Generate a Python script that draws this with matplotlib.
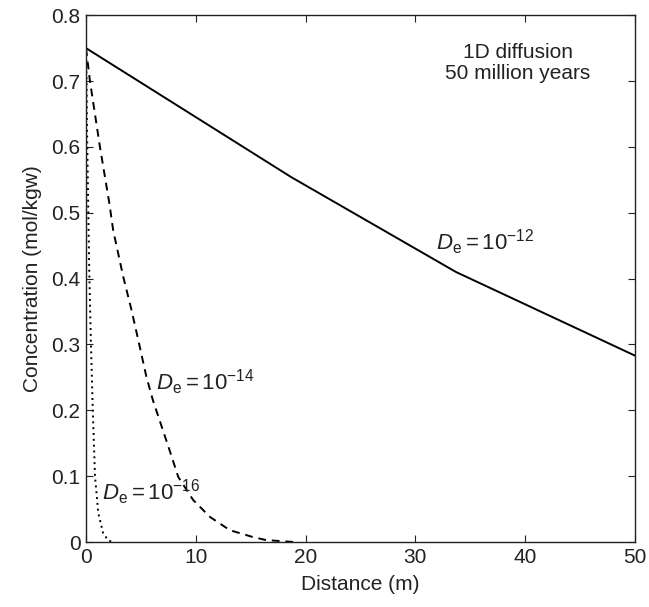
import matplotlib.pyplot as plt

plt.rcParams['font.family'] = ['Liberation Sans', 'DejaVu Sans']
plt.rcParams['mathtext.fontset'] = 'custom'
plt.rcParams['mathtext.rm'] = 'Liberation Sans'
plt.rcParams['mathtext.it'] = 'Liberation Sans:italic'

# --- Data ---
# De = 1e-12 (solid)
x_12 = [0, 18.7, 33.7, 50]
c_12 = [0.75, 0.554, 0.41, 0.283]

# De = 1e-14 (dashed)
x_14 = [0, 0.36, 1.27, 2.12, 2.48, 3.39, 4.15, 4.85, 5.5, 6.1, 6.9, 7.6,
        8.4, 9.75, 11.3, 13.1, 15.2, 16.4, 19.0]
c_14 = [0.75, 0.70, 0.60, 0.515, 0.473, 0.403, 0.352, 0.30, 0.251, 0.215,
        0.175, 0.14, 0.099, 0.064, 0.038, 0.018, 0.0076, 0.003, 0.0]

# De = 1e-16 (dotted)
x_16 = [0, 0.05, 0.1, 0.2, 0.3, 0.45, 0.62, 0.72, 0.82, 1.12, 1.55, 2.0, 2.4]
c_16 = [0.75, 0.70, 0.62, 0.51, 0.41, 0.30, 0.20, 0.15, 0.10, 0.044, 0.014,
        0.003, 0.0]

x_ticks = [0, 10, 20, 30, 40, 50]
y_ticks = [0, 0.1, 0.2, 0.3, 0.4, 0.5, 0.6, 0.7, 0.8]
y_tick_labels = ['0', '0.1', '0.2', '0.3', '0.4', '0.5', '0.6', '0.7', '0.8']

# --- Plot ---
fig = plt.figure(figsize=(6.49, 6.07), dpi=100)
ax = fig.add_axes([0.1325, 0.107, 0.846, 0.868])

ax.plot(x_12, c_12, color='black', lw=1.4, linestyle='-')
ax.plot(x_14, c_14, color='black', lw=1.4, linestyle=(0, (4, 3)))
ax.plot(x_16, c_16, color='black', lw=1.4, linestyle=(0, (1, 2)))

ax.set_xlim(0, 50)
ax.set_ylim(0, 0.8)
ax.set_xticks(x_ticks)
ax.set_xticklabels([str(v) for v in x_ticks])
ax.set_yticks(y_ticks)
ax.set_yticklabels(y_tick_labels)
ax.tick_params(direction='in', top=True, right=True, length=5, width=0.8,
               labelsize=15, colors='#222222', pad=4)
for s in ax.spines.values():
    s.set_linewidth(1.0)
    s.set_color('#222222')

ax.set_xlabel('Distance (m)', fontsize=15, color='#222222', labelpad=6)
ax.set_ylabel('Concentration (mol/kgw)', fontsize=15, color='#222222', labelpad=7)

ax.text(39.3, 0.727, '1D diffusion\n50 million years', ha='center', va='center',
        fontsize=15, color='#222222', linespacing=1.15)

lab = r'$D_{\rm e}{=}10^{-%d}$'
ax.text(31.9, 0.455, lab % 12, ha='left', va='center', fontsize=16, color='#222222')
ax.text(6.4, 0.243, lab % 14, ha='left', va='center', fontsize=16, color='#222222')
ax.text(1.43, 0.076, lab % 16, ha='left', va='center', fontsize=16, color='#222222')

plt.savefig('out.png', dpi=100)
